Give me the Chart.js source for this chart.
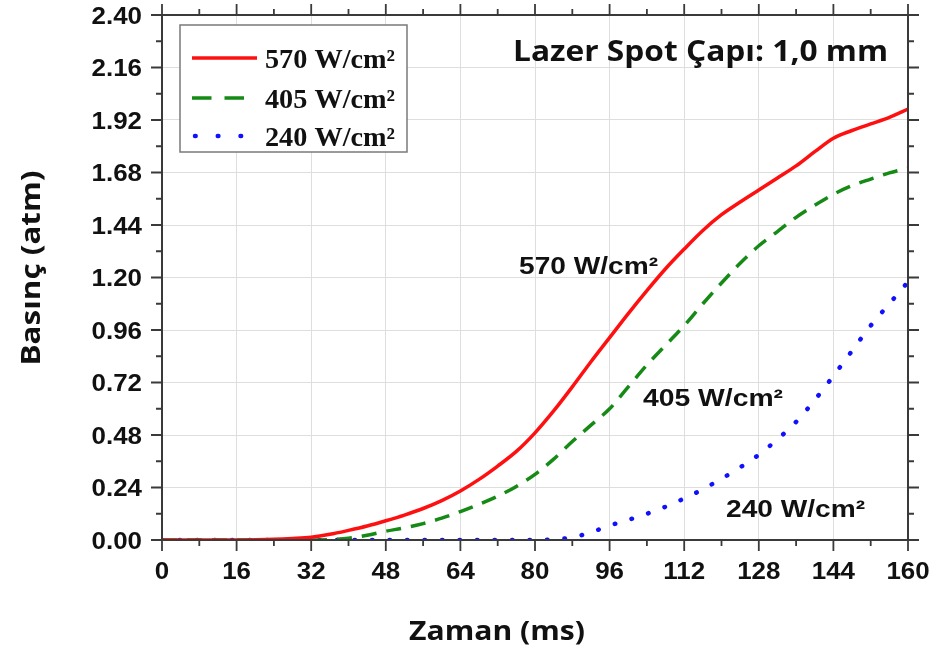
<!DOCTYPE html>
<html>
<head>
<meta charset="utf-8">
<script src="https://cdn.jsdelivr.net/npm/chart.js@4.4.1/dist/chart.umd.min.js"></script>
<style>
  body { margin: 0; background: #fff; }
  canvas { display: block; }
</style>
</head>
<body>
<canvas id="chart" width="936" height="655"></canvas>
<script>
// time axis (ms)
const times = [0, 4, 8, 12, 16, 20, 24, 28, 32, 36, 40, 44, 48, 52, 56, 60, 64, 68, 72, 76, 80,
  84, 88, 92, 96, 100, 104, 108, 112, 116, 120, 124, 128, 132, 136, 140, 144, 148, 152, 156, 160];

// pressure (atm) for each laser power density
const p570 = [0, 0, 0, 0, 0, 0.001, 0.003, 0.007, 0.013, 0.026, 0.044, 0.064, 0.088, 0.114, 0.144, 0.18,
  0.224, 0.277, 0.338, 0.405, 0.49, 0.59, 0.70, 0.815, 0.925, 1.035, 1.14, 1.24, 1.33, 1.415, 1.487,
  1.545, 1.60, 1.655, 1.71, 1.775, 1.837, 1.872, 1.902, 1.932, 1.97];
const p405 = [0, 0, 0, 0, 0, 0, 0, 0, 0, 0.002, 0.008, 0.022, 0.04, 0.056, 0.075, 0.10, 0.13, 0.163,
  0.20, 0.245, 0.30, 0.37, 0.45, 0.525, 0.60, 0.70, 0.80, 0.89, 0.98, 1.08, 1.175, 1.265, 1.345,
  1.41, 1.475, 1.53, 1.58, 1.62, 1.65, 1.678, 1.70];
const p240 = [0, 0, 0, 0, 0, 0, 0, 0, 0, 0, 0, 0, 0, 0, 0, 0, 0, 0, 0, 0, 0, 0.003, 0.012, 0.035,
  0.066, 0.092, 0.12, 0.152, 0.19, 0.232, 0.28, 0.332, 0.39, 0.46, 0.54, 0.64, 0.75, 0.865, 0.98,
  1.08, 1.18];

const seriesNames = ["570 W/cm²", "405 W/cm²", "240 W/cm²"];
const xMax = 160, xStep = 16;
const yMax = 2.4, yStep = 0.24;

const chartTitle = "Lazer Spot Çapı: 1,0 mm";
const xTitle = "Zaman (ms)";
const yTitle = "Basınç (atm)";

function pts(vals) {
  return times.map((t, i) => ({ x: t, y: vals[i] }));
}

// draw text squeezed/stretched to a given width
function fitText(ctx, text, x, y, font, width, align) {
  ctx.font = font;
  const w = ctx.measureText(text).width;
  const sx = width ? width / w : 1;
  ctx.save();
  ctx.translate(x, y);
  ctx.scale(sx, 1);
  ctx.textAlign = align || "left";
  ctx.textBaseline = "alphabetic";
  ctx.fillText(text, 0, 0);
  ctx.restore();
}

const frame = {
  id: "frame",
  afterDraw(chart) {
    const ctx = chart.ctx;
    const a = chart.chartArea;
    const xs = chart.scales.x, ys = chart.scales.y;
    ctx.save();

    // axes box
    ctx.strokeStyle = "#3a3a3a";
    ctx.lineWidth = 2;
    ctx.strokeRect(a.left, a.top, a.right - a.left, a.bottom - a.top);

    // major + minor ticks on all four sides, outward
    ctx.lineWidth = 1.8;
    ctx.beginPath();
    for (let i = 0; i <= xMax / (xStep / 2); i++) {
      const px = xs.getPixelForValue(i * xStep / 2);
      const len = i % 2 === 0 ? 11 : 6;
      ctx.moveTo(px, a.bottom); ctx.lineTo(px, a.bottom + len);
      ctx.moveTo(px, a.top); ctx.lineTo(px, a.top - len);
    }
    for (let i = 0; i <= Math.round(yMax / (yStep / 2)); i++) {
      const py = ys.getPixelForValue(i * yStep / 2);
      const len = i % 2 === 0 ? 11 : 6;
      ctx.moveTo(a.left, py); ctx.lineTo(a.left - len, py);
      ctx.moveTo(a.right, py); ctx.lineTo(a.right + len, py);
    }
    ctx.stroke();

    // tick labels
    ctx.fillStyle = "#111";
    const tickFont = 'bold 24px "Liberation Sans"';
    xs.ticks.forEach(t => {
      const s = String(Math.round(t.value));
      ctx.font = tickFont;
      const w = ctx.measureText(s).width * 1.08;
      fitText(ctx, s, xs.getPixelForValue(t.value), 579, tickFont, w, "center");
    });
    ys.ticks.forEach(t => {
      const s = t.value.toFixed(2);
      ctx.font = tickFont;
      const w = ctx.measureText(s).width * 1.08;
      fitText(ctx, s, 142, ys.getPixelForValue(t.value) + 8.5, tickFont, w, "right");
    });

    // axis titles
    const titleFont = 'bold 27px "Open Sans"';
    fitText(ctx, xTitle, 409, 640, titleFont, 176, "left");
    ctx.save();
    ctx.translate(40, 268);
    ctx.rotate(-Math.PI / 2);
    fitText(ctx, yTitle, 0, 0, titleFont, 195, "center");
    ctx.restore();

    // title in corner
    fitText(ctx, chartTitle, 513, 61, 'bold 29px "Open Sans"', 375, "left");

    // curve labels
    const lblFont = 'bold 24px "Liberation Sans"';
    fitText(ctx, seriesNames[0], 519, 274, lblFont, 139, "left");
    fitText(ctx, seriesNames[1], 643, 406, lblFont, 140, "left");
    fitText(ctx, seriesNames[2], 726, 517, lblFont, 139, "left");

    // legend box
    ctx.fillStyle = "#fff";
    ctx.fillRect(180, 25, 227, 127);
    ctx.strokeStyle = "#7a7a7a";
    ctx.lineWidth = 1.5;
    ctx.strokeRect(180, 25, 227, 127);
    const rows = [58, 98, 136];
    chart.data.datasets.forEach((ds, i) => {
      ctx.save();
      ctx.strokeStyle = ds.borderColor;
      ctx.lineWidth = ds.borderWidth;
      ctx.lineCap = ds.borderCapStyle || "butt";
      ctx.setLineDash((ds.borderDash || []).map(d => d * 1.3));
      ctx.lineDashOffset = i === 2 ? -3 : 0;
      ctx.beginPath();
      ctx.moveTo(192, rows[i]);
      ctx.lineTo(257, rows[i]);
      ctx.stroke();
      ctx.restore();
      ctx.fillStyle = "#111";
      fitText(ctx, ds.label, 265, rows[i] + 9.5, 'bold 27px "Liberation Serif"', 130, "left");
    });

    ctx.restore();
  }
};

new Chart(document.getElementById("chart"), {
  type: "line",
  data: {
    datasets: [
      {
        label: seriesNames[0],
        data: pts(p570),
        borderColor: "#ff1010",
        borderWidth: 3.5,
        pointRadius: 0,
        cubicInterpolationMode: "monotone"
      },
      {
        label: seriesNames[1],
        data: pts(p405),
        borderColor: "#158a15",
        borderWidth: 3.5,
        borderDash: [15, 10],
        pointRadius: 0,
        cubicInterpolationMode: "monotone"
      },
      {
        label: seriesNames[2],
        data: pts(p240),
        borderColor: "#1010ff",
        borderWidth: 4.5,
        borderDash: [0.5, 17],
        borderCapStyle: "round",
        pointRadius: 0,
        cubicInterpolationMode: "monotone"
      }
    ]
  },
  options: {
    responsive: false,
    animation: false,
    devicePixelRatio: 1,
    layout: { padding: { top: 15, right: 28, left: 0, bottom: 0 } },
    plugins: {
      legend: { display: false },
      tooltip: { enabled: false }
    },
    scales: {
      x: {
        type: "linear",
        min: 0,
        max: xMax,
        ticks: { stepSize: xStep, display: false },
        grid: { color: "#dedede", lineWidth: 1, drawTicks: false },
        border: { display: false },
        afterFit: s => { s.height = 115; }
      },
      y: {
        min: 0,
        max: yMax,
        ticks: { stepSize: yStep, display: false },
        grid: { color: "#dedede", lineWidth: 1, drawTicks: false },
        border: { display: false },
        afterFit: s => { s.width = 162; }
      }
    }
  },
  plugins: [frame]
});
</script>
</body>
</html>
